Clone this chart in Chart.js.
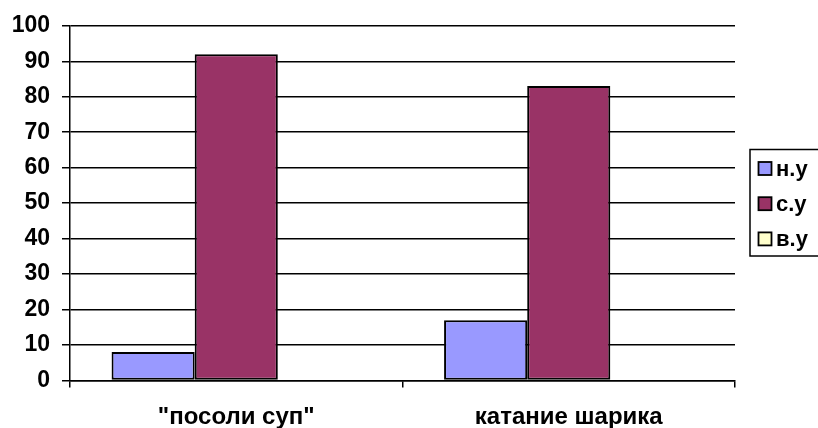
<!DOCTYPE html>
<html>
<head>
<meta charset="utf-8">
<script src="https://cdn.jsdelivr.net/npm/chart.js@4/dist/chart.umd.min.js"></script>
<style>
  html, body { margin: 0; padding: 0; background: #ffffff; }
  #wrap { width: 818px; height: 428px; }
</style>
</head>
<body>
<div id="wrap"><canvas id="c" width="818" height="428"></canvas></div>
<script>
// Test categories and the share of children at each level
const categories = ['"посоли суп"', 'катание шарика'];
const levelNames = ['н.у', 'с.у', 'в.у'];
const lowLevel = [8, 17];
const midLevel = [92, 83];
const highLevel = [0, 0];
const yTicks = [0, 10, 20, 30, 40, 50, 60, 70, 80, 90, 100];

const FONT = '"Liberation Sans", Arial, sans-serif';
const colors = ['#9999FF', '#993366', '#FFFFCC'];

// Boxed legend on the right, drawn from the datasets
const boxedLegend = {
  id: 'boxedLegend',
  afterDraw(chart) {
    const ctx = chart.ctx;
    const x0 = 750, y0 = 149.5, w = 80, h = 106.5;
    ctx.save();
    ctx.fillStyle = '#ffffff';
    ctx.fillRect(x0, y0, w, h);
    ctx.strokeStyle = '#000000';
    ctx.lineWidth = 1.5;
    ctx.strokeRect(x0, y0, w, h);
    ctx.font = 'bold 22px ' + FONT;
    ctx.textBaseline = 'middle';
    ctx.textAlign = 'left';
    chart.data.datasets.forEach((ds, i) => {
      const cy = 168.5 + i * 35.2;
      ctx.fillStyle = ds.backgroundColor;
      ctx.fillRect(758.5, cy - 6.5, 13, 13);
      ctx.lineWidth = 1.8;
      ctx.strokeRect(758.5, cy - 6.5, 13, 13);
      ctx.fillStyle = '#000000';
      ctx.fillText(ds.label, 776, cy + 1);
    });
    ctx.restore();
  }
};

new Chart(document.getElementById('c'), {
  type: 'bar',
  data: {
    labels: categories,
    datasets: [
      { label: levelNames[0], data: lowLevel, backgroundColor: colors[0] },
      { label: levelNames[1], data: midLevel, backgroundColor: colors[1] },
      { label: levelNames[2], data: highLevel, backgroundColor: colors[2] }
    ].map(d => Object.assign(d, {
      borderColor: '#000000',
      borderWidth: 2,
      borderSkipped: false,
      categoryPercentage: 0.75,
      barPercentage: 1.0
    }))
  },
  options: {
    responsive: false,
    animation: false,
    devicePixelRatio: 1,
    layout: { padding: { top: 24, right: 83, left: 0, bottom: 0 } },
    plugins: {
      legend: { display: false },
      tooltip: { enabled: false }
    },
    scales: {
      x: {
        offset: true,
        grid: {
          display: true,
          offset: true,
          drawOnChartArea: false,
          drawTicks: true,
          tickLength: 7,
          color: '#000000',
          lineWidth: 1.5
        },
        border: { display: true, color: '#000000', width: 1.5 },
        ticks: {
          color: '#000000',
          font: { family: FONT, size: 24, weight: 'bold' },
          padding: 15,
          maxRotation: 0
        },
        afterFit(scale) { scale.height = 47.5; }
      },
      y: {
        min: 0,
        max: 100,
        afterBuildTicks(scale) { scale.ticks = yTicks.map(v => ({ value: v })); },
        grid: {
          color: '#000000',
          lineWidth: 1.5,
          tickLength: 8,
          drawTicks: true
        },
        border: { display: true, color: '#000000', width: 1.5 },
        ticks: {
          color: '#000000',
          font: { family: FONT, size: 23, weight: 'bold' },
          padding: 12
        },
        afterFit(scale) { scale.width = 70; }
      }
    }
  },
  plugins: [boxedLegend]
});
</script>
</body>
</html>
